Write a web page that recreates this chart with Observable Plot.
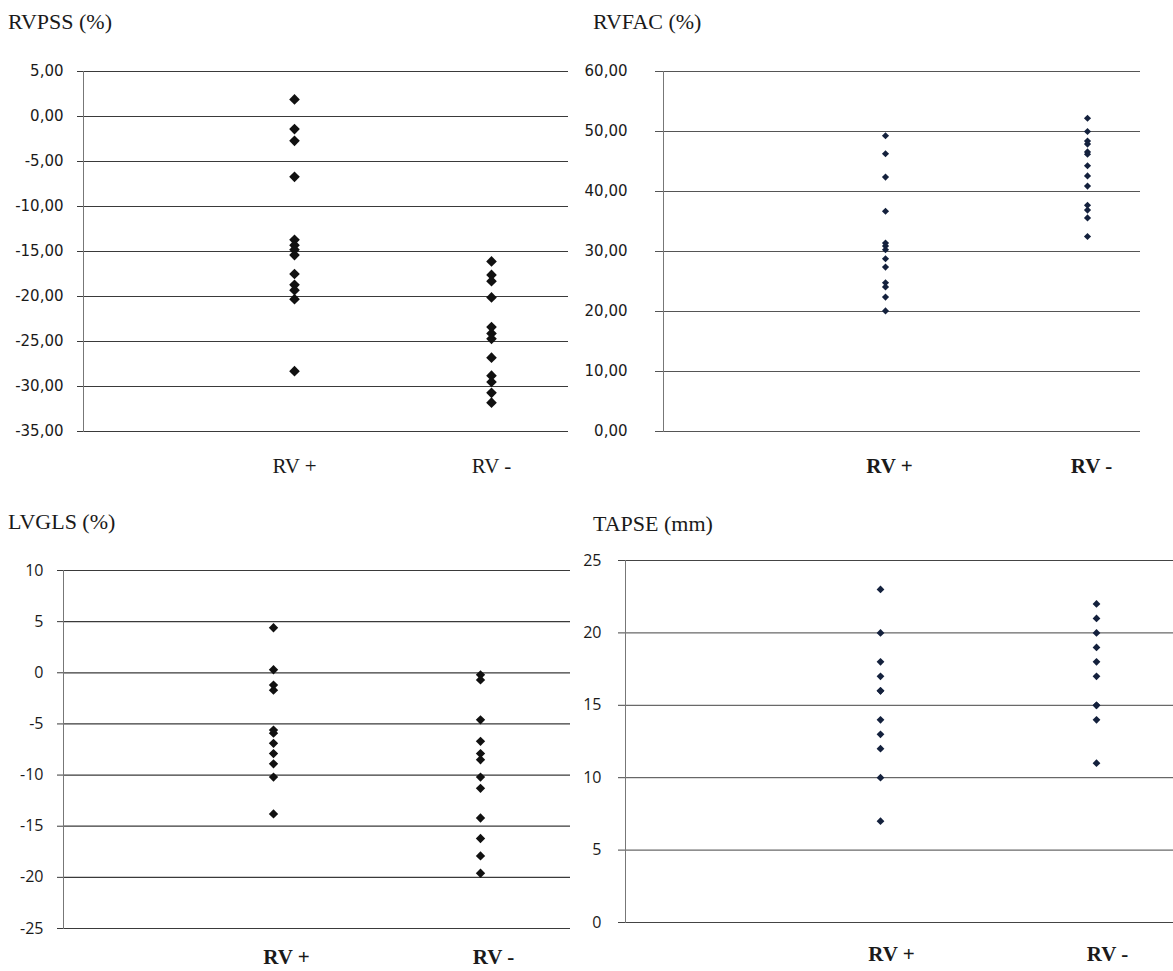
<!DOCTYPE html>
<html>
<head>
<meta charset="utf-8">
<script src="https://cdn.jsdelivr.net/npm/d3@7"></script>
<script src="https://cdn.jsdelivr.net/npm/@observablehq/plot@0.6"></script>
<style>
  html, body { margin: 0; padding: 0; background: #fff; overflow: hidden; }
  #root { position: relative; width: 1173px; height: 971px; background: #fff; }
  .title { position: absolute; font-family: "Liberation Serif", "Times New Roman", serif; font-size: 22px; line-height: 1; color: #1a1a1a; white-space: nowrap; }
  .panel { position: absolute; }
</style>
</head>
<body>
<div id="root"></div>
<script>
// ---- data ----
const groups = ["RV +", "RV -"];

const rvpssPos = [1.9, -1.4, -2.7, -6.7, -13.7, -14.3, -14.8, -15.4, -17.5, -18.7, -19.3, -20.3, -28.3];
const rvpssNeg = [-16.1, -17.6, -18.3, -20.1, -23.4, -24.1, -24.7, -26.8, -28.8, -29.5, -30.7, -31.8];
const rvpssTicks = [5, 0, -5, -10, -15, -20, -25, -30, -35];

const rvfacPos = [49.3, 46.3, 42.4, 36.7, 31.4, 30.9, 30.3, 28.8, 27.4, 24.8, 24.1, 22.4, 20.1];
const rvfacNeg = [52.2, 50.0, 48.4, 47.9, 46.6, 46.2, 44.3, 42.6, 40.9, 37.7, 36.9, 35.6, 32.5];
const rvfacTicks = [60, 50, 40, 30, 20, 10, 0];

const lvglsPos = [4.4, 0.3, -1.2, -1.7, -5.6, -5.9, -6.9, -7.9, -8.9, -10.2, -13.8];
const lvglsNeg = [-0.2, -0.7, -4.6, -6.7, -7.9, -8.5, -10.2, -11.3, -14.2, -16.2, -17.9, -19.6];
const lvglsTicks = [10, 5, 0, -5, -10, -15, -20, -25];

const tapsePos = [23, 20, 18, 17, 16, 16, 14, 13, 12, 10, 7];
const tapseNeg = [22, 21, 20, 19, 18, 17, 15, 15, 14, 11];
const tapseTicks = [25, 20, 15, 10, 5, 0];

const titles = ["RVPSS (%)", "RVFAC (%)", "LVGLS (%)", "TAPSE (mm)"];

// ---- helpers ----
const comma2 = d => d.toFixed(2).replace(".", ",");
const plain = d => String(d);
const toRows = (pos, neg) => [
  ...pos.map(v => ({group: groups[0], value: v})),
  ...neg.map(v => ({group: groups[1], value: v}))
];

const root = document.getElementById("root");

function addTitle(text, left, top) {
  const d = document.createElement("div");
  d.className = "title";
  d.style.left = left + "px";
  d.style.top = top + "px";
  d.textContent = text;
  root.appendChild(d);
}

function panel(cfg) {
  const ticks = cfg.ticks;
  const chart = Plot.plot({
    width: cfg.width, height: cfg.height,
    marginLeft: cfg.ml, marginRight: cfg.mr, marginTop: cfg.mt, marginBottom: cfg.mb,
    style: {background: "transparent", color: "#1a1a1a"},
    x: {type: "point", domain: groups, padding: cfg.padding, align: cfg.align, label: null},
    y: {domain: [d3.min(ticks), d3.max(ticks)], label: null},
    marks: [
      Plot.ruleY(ticks, {stroke: cfg.grid, strokeWidth: cfg.gridWidth}),
      Plot.frame({anchor: "left", stroke: "#777", strokeWidth: 1}),
      Plot.axisY({ticks, tickFormat: cfg.fmt, tickSize: cfg.tickSize, tickPadding: cfg.tickPadding,
        stroke: cfg.grid, label: null, fontFamily: cfg.tickFont, fontSize: cfg.tickFontSize, fill: "#1a1a1a"}),
      Plot.axisX({tickSize: 0, tickPadding: cfg.xPad, dx: cfg.xDx, label: null,
        fontFamily: "Liberation Serif, Times New Roman, serif", fontSize: 21,
        fontWeight: cfg.bold ? "bold" : "normal", fill: "#1a1a1a"}),
      Plot.dot(toRows(cfg.pos, cfg.neg), {x: "group", y: "value", symbol: "diamond2",
        r: cfg.r, fill: cfg.color, stroke: "none"})
    ]
  });
  const wrap = document.createElement("div");
  wrap.className = "panel";
  wrap.style.left = cfg.left + "px";
  wrap.style.top = cfg.top + "px";
  wrap.appendChild(chart);
  root.appendChild(wrap);
}

// RVPSS
addTitle(titles[0], 8, 11);
panel({left: 0, top: 40, width: 600, height: 450, ml: 83, mr: 32, mt: 31, mb: 59,
  padding: 0.73, align: 0.734, ticks: rvpssTicks, fmt: comma2, tickSize: 6, tickPadding: 14,
  tickFont: "DejaVu Sans, Verdana, sans-serif", tickFontSize: 15, xPad: 27, xDx: 0, bold: false,
  pos: rvpssPos, neg: rvpssNeg, r: 4.8, color: "#111", grid: "#3a3a3a", gridWidth: 1.2});

// RVFAC
addTitle(titles[1], 593, 11);
panel({left: 580, top: 40, width: 593, height: 450, ml: 83, mr: 33, mt: 31, mb: 59,
  padding: 0.675, align: 0.807, ticks: rvfacTicks, fmt: comma2, tickSize: 8, tickPadding: 28,
  tickFont: "DejaVu Sans, Verdana, sans-serif", tickFontSize: 15, xPad: 27, xDx: 4, bold: true,
  pos: rvfacPos, neg: rvfacNeg, r: 3.2, color: "#14213d", grid: "#555", gridWidth: 1});

// LVGLS
addTitle(titles[2], 8, 511);
panel({left: 0, top: 540, width: 600, height: 440, ml: 63, mr: 30, mt: 30, mb: 52,
  padding: 0.72, align: 0.699, ticks: lvglsTicks, fmt: plain, tickSize: 6, tickPadding: 14,
  tickFont: "Open Sans, Liberation Sans, sans-serif", tickFontSize: 16, xPad: 21, xDx: 13, bold: true,
  pos: lvglsPos, neg: lvglsNeg, r: 4.2, color: "#111", grid: "#3a3a3a", gridWidth: 1.2});

// TAPSE
addTitle(titles[3], 593, 513);
panel({left: 580, top: 530, width: 593, height: 440, ml: 45, mr: 0, mt: 30, mb: 48,
  padding: 0.763, align: 0.767, ticks: tapseTicks, fmt: plain, tickSize: 7, tickPadding: 17,
  tickFont: "Open Sans, Liberation Sans, sans-serif", tickFontSize: 16, xPad: 24, xDx: 11, bold: true,
  pos: tapsePos, neg: tapseNeg, r: 3.5, color: "#14213d", grid: "#444", gridWidth: 1});
</script>
</body>
</html>
